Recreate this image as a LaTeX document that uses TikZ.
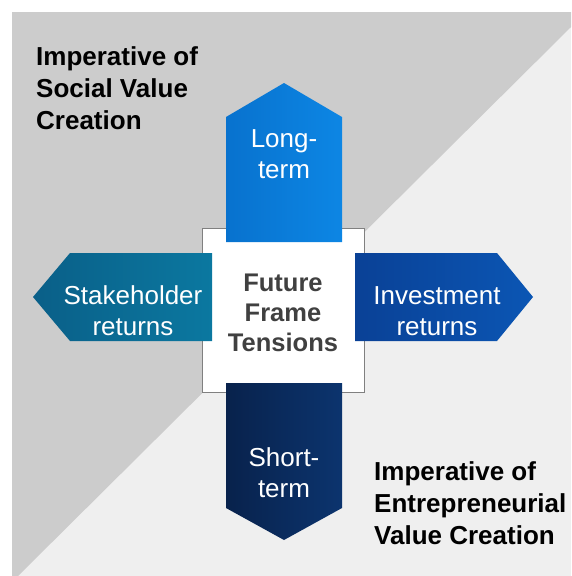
\documentclass[tikz,border=0pt]{standalone}
\usepackage{fontspec}
\setmainfont{Liberation Sans}
\usepackage{xcolor}
\usetikzlibrary{positioning, backgrounds}

\definecolor{socialgray}{HTML}{CCCCCC}
\definecolor{entregray}{HTML}{EFEFEF}
\definecolor{hubgray}{HTML}{404040}
\definecolor{longA}{HTML}{0872CE}
\definecolor{longB}{HTML}{0D86E4}
\definecolor{stakeA}{HTML}{0A5F88}
\definecolor{stakeB}{HTML}{0B78A0}
\definecolor{investA}{HTML}{0A4196}
\definecolor{investB}{HTML}{0B56B4}
\definecolor{shortA}{HTML}{08224C}
\definecolor{shortB}{HTML}{0C346E}

\tikzset{
	arrowtext/.style = {text = white, align = center, inner sep = 0pt, font = \fontsize{26}{30.5}\selectfont},
	cornertext/.style = {anchor = north west, align = left, inner sep = 0pt, font = \bfseries\fontsize{26}{32}\selectfont},
	framearrow/.style = {shading = axis, shading angle = 135}
}

\begin{document}
\begin{tikzpicture}[x = 1pt, y = -1pt]
	% two halves of the backdrop
	\fill [white] (0, 0) rectangle (571, 576);
	\fill [entregray] (12, 12) rectangle (571, 576);
	\fill [socialgray] (12, 12) -- (571, 12) -- (571, 27) -- (18, 576) -- (12, 576) -- cycle;

	\node [cornertext] (social) at (36, 46) {Imperative of\\Social Value\\Creation};
	\node [cornertext] (entre) at (374, 461) {Imperative of\\Entrepreneurial\\Value Creation};

	\node [draw = gray, fill = white, line width = 1pt, minimum width = 162pt, minimum height = 164pt] (hub) at (283, 310) {};
	\node [text = hubgray, align = center, inner sep = 0pt, font = \bfseries\fontsize{25.5}{30}\selectfont] (hubtext) at (283, 313) {Future\\Frame\\Tensions};

	\shade [framearrow, left color = longA, right color = longB] (226, 242) -- (226, 117) -- (284, 83) -- (342, 117) -- (342, 242) -- cycle;
	\shade [framearrow, left color = shortA, right color = shortB] (226, 383) -- (342, 383) -- (342, 508) -- (284, 540) -- (226, 508) -- cycle;
	\shade [framearrow, left color = investA, right color = investB] (355, 253) -- (497, 253) -- (533, 297) -- (497, 341) -- (355, 341) -- cycle;
	\shade [framearrow, left color = stakeA, right color = stakeB] (212, 253) -- (212, 341) -- (70, 341) -- (33, 297) -- (70, 253) -- cycle;

	\node [arrowtext] (long) at (284, 154) {Long-\\term};
	\node [arrowtext] (short) at (284, 472.5) {Short-\\term};
	\node [arrowtext] (invest) at (437, 311) {Investment\\returns};
	\node [arrowtext] (stake) at (133, 310.5) {Stakeholder\\returns};
\end{tikzpicture}
\end{document}
